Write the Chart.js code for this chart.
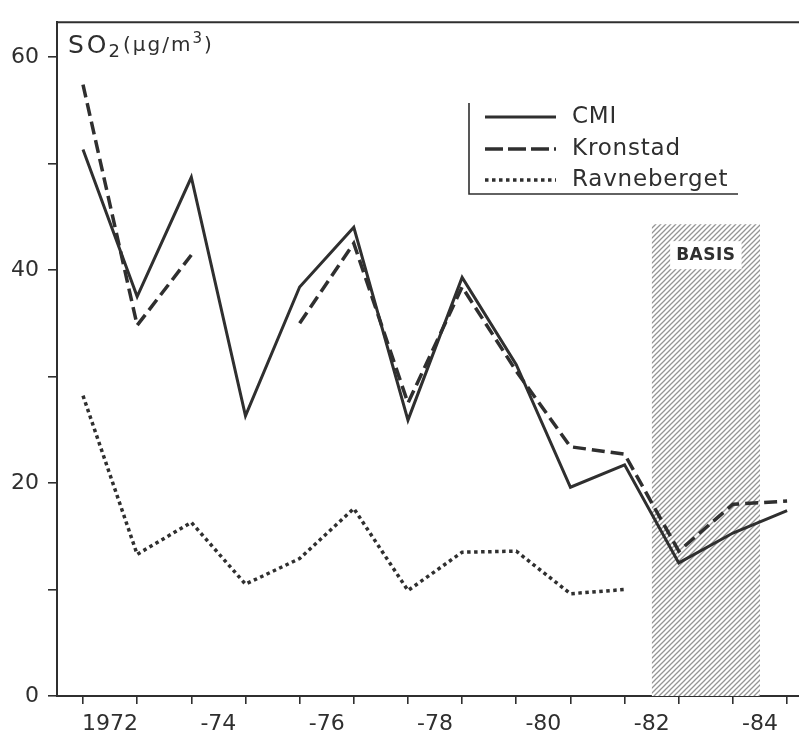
<!DOCTYPE html>
<html>
<head>
<meta charset="utf-8">
<title>SO2</title>
<script src="https://cdn.jsdelivr.net/npm/chart.js@4.4.1/dist/chart.umd.min.js"></script>
<style>
  html, body { margin: 0; padding: 0; background: #fff; }
  canvas { display: block; }
</style>
</head>
<body>
<canvas id="so2" width="799" height="734"></canvas>
<script>
// Winter means, plotted at the middle of each winter (1971/72 -> 1971.5)
const seasons = [1971.5, 1972.5, 1973.5, 1974.5, 1975.5, 1976.5, 1977.5,
                 1978.5, 1979.5, 1980.5, 1981.5, 1982.5, 1983.5, 1984.5];
const cmi = [51.3, 37.5, 48.7, 26.3, 38.4, 44.0, 25.9, 39.3, 31.1, 19.6, 21.7, 12.5, 15.3, 17.4];
const kronstad = [57.4, 34.8, 41.4, null, 35.0, 42.5, 27.5, 38.4, 30.5, 23.4, 22.7, 13.6, 18.0, 18.3];
const ravneberget = [28.2, 13.3, 16.3, 10.5, 12.9, 17.6, 9.9, 13.5, 13.6, 9.6, 10.0, null, null, null];

const yearLabels = [1972, 1974, 1976, 1978, 1980, 1982, 1984];
const yTicks = [0, 10, 20, 30, 40, 50, 60];
const yLabels = [0, 20, 40, 60];

// reference period shown as a hatched band
const basisPeriod = [1982, 1984];
const basisTop = 44.3;

const INK = '#2f2f2f';
const FONT = '"DejaVu Sans", sans-serif';

function points(values) {
    return seasons.map((s, i) => ({ x: s, y: values[i] }));
}

// diagonal hatch used for the BASIS band
function makeHatch() {
    const s = 5;
    const c = document.createElement('canvas');
    c.width = s;
    c.height = s;
    const g = c.getContext('2d');
    g.fillStyle = '#ffffff';
    g.fillRect(0, 0, s, s);
    g.strokeStyle = '#959595';
    g.lineWidth = 1.3;
    g.beginPath();
    g.moveTo(-1, s + 1); g.lineTo(s + 1, -1);
    g.moveTo(-1, 1); g.lineTo(1, -1);
    g.moveTo(s - 1, s + 1); g.lineTo(s + 1, s - 1);
    g.stroke();
    return g.createPattern(c, 'repeat');
}

// top frame line, axis title and BASIS tag
const decorations = {
    id: 'decorations',
    afterDatasetsDraw(chart) {
        const { ctx, chartArea, scales } = chart;
        ctx.save();

        ctx.strokeStyle = INK;
        ctx.lineWidth = 2;
        ctx.beginPath();
        ctx.moveTo(chartArea.left - 1, chartArea.top);
        ctx.lineTo(chartArea.right, chartArea.top);
        ctx.stroke();

        // SO2 (µg/m3)
        ctx.fillStyle = INK;
        ctx.textBaseline = 'alphabetic';
        ctx.textAlign = 'left';
        let x = chartArea.left + 11;
        const base = 53;
        ctx.letterSpacing = '3px';
        ctx.font = '25px ' + FONT;
        ctx.fillText('SO', x, base);
        x += ctx.measureText('SO').width - 1;
        ctx.letterSpacing = '0px';
        ctx.font = '18px ' + FONT;
        ctx.fillText('2', x, base + 4);
        x += ctx.measureText('2').width + 3;
        ctx.letterSpacing = '2px';
        ctx.font = '20px ' + FONT;
        ctx.fillText('(\u00b5g/m', x, base - 2);
        x += ctx.measureText('(\u00b5g/m').width;
        ctx.font = '15px ' + FONT;
        ctx.fillText('3', x, base - 10);
        x += ctx.measureText('3').width;
        ctx.font = '20px ' + FONT;
        ctx.fillText(')', x, base - 2);

        // BASIS tag on the band
        const bx = scales.x.getPixelForValue((basisPeriod[0] + basisPeriod[1]) / 2);
        const by = scales.y.getPixelForValue(basisTop) + 34;
        ctx.letterSpacing = '0.5px';
        ctx.font = 'bold 17px ' + FONT;
        const w = ctx.measureText('BASIS').width + 12;
        ctx.fillStyle = '#ffffff';
        ctx.fillRect(bx - w / 2, by - 17, w, 28);
        ctx.fillStyle = INK;
        ctx.textAlign = 'center';
        ctx.textBaseline = 'middle';
        ctx.fillText('BASIS', bx, by - 3);
        ctx.restore();
    }
};

// legend box: left and bottom rule, line samples and station names
const stationLegend = {
    id: 'stationLegend',
    afterDraw(chart) {
        const { ctx } = chart;
        const left = 469, top = 103, bottom = 194, right = 738;
        ctx.save();
        ctx.strokeStyle = INK;
        ctx.lineWidth = 1.6;
        ctx.beginPath();
        ctx.moveTo(left, top);
        ctx.lineTo(left, bottom);
        ctx.lineTo(right, bottom);
        ctx.stroke();

        const rows = [117, 149, 180];
        const lines = chart.data.datasets.filter(ds => ds.inLegend);
        lines.forEach((ds, i) => {
            const y = rows[i];
            ctx.strokeStyle = ds.borderColor;
            ctx.lineWidth = ds.borderWidth;
            ctx.setLineDash(i === 1 ? [18, 5] : ds.borderDash);
            ctx.beginPath();
            ctx.moveTo(485, y);
            ctx.lineTo(556, y);
            ctx.stroke();
            ctx.setLineDash([]);
            ctx.fillStyle = INK;
            ctx.font = '23px ' + FONT;
            ctx.letterSpacing = '0.8px';
            ctx.textAlign = 'left';
            ctx.textBaseline = 'middle';
            ctx.fillText(ds.label, 572, y);
        });
        ctx.restore();
    }
};

const hatch = makeHatch();

new Chart(document.getElementById('so2'), {
    type: 'line',
    data: {
        datasets: [
            {
                label: 'CMI',
                data: points(cmi),
                borderColor: INK,
                borderWidth: 3,
                borderDash: [],
                pointRadius: 0,
                tension: 0,
                fill: false,
                inLegend: true,
                order: 1
            },
            {
                label: 'Kronstad',
                data: points(kronstad),
                borderColor: INK,
                borderWidth: 3.5,
                borderDash: [13, 6],
                pointRadius: 0,
                tension: 0,
                spanGaps: false,
                fill: false,
                inLegend: true,
                order: 2
            },
            {
                label: 'Ravneberget',
                data: points(ravneberget),
                borderColor: INK,
                borderWidth: 3.5,
                borderDash: [3.5, 3.5],
                pointRadius: 0,
                tension: 0,
                fill: false,
                inLegend: true,
                order: 3
            },
            {
                label: 'BASIS',
                data: basisPeriod.map(v => ({ x: v, y: basisTop })),
                borderWidth: 0,
                borderColor: 'rgba(0,0,0,0)',
                backgroundColor: hatch,
                pointRadius: 0,
                fill: 'origin',
                order: 10
            }
        ]
    },
    options: {
        responsive: false,
        animation: false,
        devicePixelRatio: 1,
        layout: { padding: { top: 16, right: 0, left: 0, bottom: 0 } },
        plugins: {
            legend: { display: false },
            tooltip: { enabled: false }
        },
        scales: {
            x: {
                type: 'linear',
                min: 1971.02,
                max: 1984.72,
                afterFit: (scale) => { scale.height = 38; },
                afterBuildTicks: (scale) => {
                    const ticks = seasons.concat(yearLabels).sort((a, b) => a - b);
                    scale.ticks = ticks.map(v => ({ value: v }));
                },
                border: { color: INK, width: 2 },
                grid: {
                    drawOnChartArea: false,
                    tickLength: 8,
                    lineWidth: 1.6,
                    color: (ctx) => (ctx.tick && Number.isInteger(ctx.tick.value)) ? 'rgba(0,0,0,0)' : INK
                },
                ticks: {
                    autoSkip: false,
                    maxRotation: 0,
                    padding: 7,
                    color: INK,
                    font: { family: FONT, size: 22 },
                    callback: (v) => {
                        if (!yearLabels.includes(v)) return '';
                        return v === yearLabels[0] ? String(v) : '-' + String(v).slice(2);
                    }
                }
            },
            y: {
                min: 0,
                max: 63.26,
                afterFit: (scale) => { scale.width = 57; },
                afterBuildTicks: (scale) => {
                    scale.ticks = yTicks.map(v => ({ value: v }));
                },
                border: { color: INK, width: 2 },
                grid: {
                    drawOnChartArea: false,
                    tickLength: 9,
                    lineWidth: 1.6,
                    color: INK
                },
                ticks: {
                    padding: 9,
                    color: INK,
                    font: { family: FONT, size: 22 },
                    callback: (v) => yLabels.includes(v) ? String(v) : ''
                }
            }
        }
    },
    plugins: [decorations, stationLegend]
});
</script>
</body>
</html>
